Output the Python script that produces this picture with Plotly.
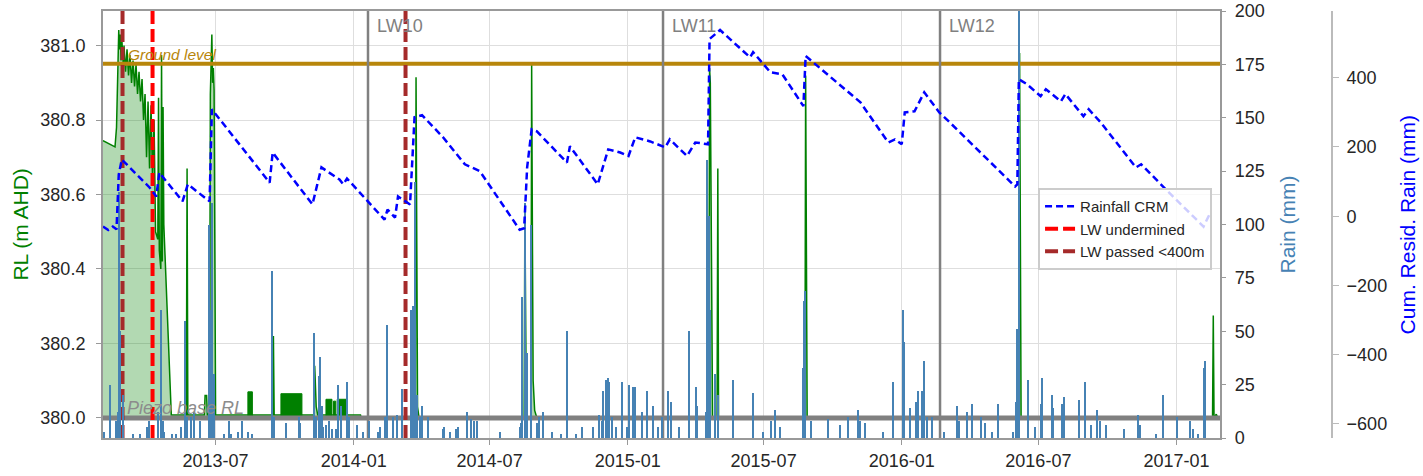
import plotly.graph_objects as go

# ---------------- data ----------------
rl_dates = [
    "2013-02-01", "2013-02-17", "2013-02-19", "2013-02-21", "2013-02-22", "2013-02-23",
    "2013-02-24", "2013-02-25", "2013-02-26", "2013-02-28", "2013-03-01", "2013-03-03",
    "2013-03-05", "2013-03-07", "2013-03-09", "2013-03-11", "2013-03-13", "2013-03-15",
    "2013-03-17", "2013-03-19", "2013-03-21", "2013-03-23", "2013-03-25", "2013-03-27",
    "2013-03-29", "2013-03-31", "2013-04-02", "2013-04-04", "2013-04-06", "2013-04-08",
    "2013-04-10", "2013-04-12", "2013-04-15", "2013-04-16", "2013-04-17", "2013-04-19",
    "2013-04-20", "2013-04-21", "2013-04-22", "2013-04-23", "2013-05-03", "2013-05-23",
    "2013-05-24", "2013-05-25", "2013-06-16", "2013-06-17", "2013-06-19", "2013-06-20",
    "2013-06-23", "2013-06-24", "2013-06-26", "2013-06-27", "2013-06-28", "2013-06-29",
    "2013-06-30", "2013-07-01", "2013-09-15", "2013-09-16", "2013-09-17", "2013-11-09",
    "2013-11-10", "2013-11-12", "2013-11-14", "2014-01-10", "2014-01-11", "2014-03-24",
    "2014-03-25", "2014-03-26", "2014-03-27", "2014-03-29", "2014-08-16", "2014-08-17",
    "2014-08-18", "2014-08-19", "2014-08-25", "2014-08-26", "2014-08-27", "2014-08-28",
    "2014-08-30", "2014-09-02", "2015-04-19", "2015-04-20", "2015-04-21", "2015-04-22",
    "2015-04-23", "2015-04-24", "2015-04-30", "2015-05-01", "2015-05-02", "2015-08-25",
    "2015-08-26", "2015-08-27", "2015-08-28", "2016-06-05", "2016-06-06", "2016-06-07",
    "2016-06-08", "2017-02-18", "2017-02-19", "2017-02-20", "2017-02-23", "2017-02-25",
]
rl_values = [
    380.745, 380.728, 380.78, 381.03, 381.042, 380.99,
    381.03, 380.96, 381.02, 380.95, 381.0, 380.93,
    380.99, 380.92, 380.975, 380.90, 380.96, 380.89,
    380.95, 380.87, 380.93, 380.85, 380.91, 380.80,
    380.87, 380.70, 380.85, 380.67, 380.84, 380.64,
    380.80, 380.50, 380.48, 380.86, 380.45, 380.40,
    380.975, 380.42, 380.835, 380.52, 380.008, 380.008,
    380.67, 380.008, 380.008, 380.06, 380.06, 380.008,
    380.008, 380.87, 381.03, 380.90, 380.94, 380.88,
    380.30, 380.008, 380.008, 380.22, 380.008, 380.008,
    380.14, 380.03, 380.008, 380.008, 380.0, 380.0,
    380.915, 380.40, 380.03, 380.0, 380.0, 380.56,
    380.10, 380.0, 380.0, 380.95, 380.50, 380.10,
    380.02, 380.0, 380.0, 380.94, 380.90, 380.55,
    380.15, 380.0, 380.0, 380.67, 380.0, 380.0,
    380.92, 380.60, 380.0, 380.0, 380.98, 380.50,
    380.0, 380.0, 380.275, 380.0, 380.01, 380.0,
]

# periods of rapid (daily) oscillation of RL, drawn as solid bands
block_start = ["2013-08-13", "2013-09-26", "2013-11-25", "2013-12-05", "2013-12-10"]
block_end = ["2013-08-19", "2013-10-24", "2013-12-03", "2013-12-08", "2013-12-23"]
block_level = [380.07, 380.065, 380.05, 380.045, 380.05]

rain_dates = [
    "2013-02-02", "2013-02-10", "2013-02-18", "2013-02-21", "2013-02-22", "2013-02-23",
    "2013-02-24", "2013-02-28", "2013-03-13", "2013-03-22", "2013-04-01", "2013-04-04",
    "2013-04-15", "2013-04-19", "2013-04-22", "2013-04-24", "2013-05-04", "2013-05-10",
    "2013-05-16", "2013-05-22", "2013-05-24", "2013-05-29", "2013-06-02", "2013-06-10",
    "2013-06-23", "2013-06-25", "2013-06-27", "2013-06-29", "2013-07-12", "2013-07-19",
    "2013-07-22", "2013-07-31", "2013-08-06", "2013-08-13", "2013-08-19", "2013-09-15",
    "2013-09-17", "2013-10-03", "2013-10-20", "2013-10-22", "2013-11-09", "2013-11-12",
    "2013-11-16", "2013-11-18", "2013-11-20", "2013-11-22", "2013-11-26", "2013-11-29",
    "2013-11-30", "2013-12-04", "2013-12-09", "2013-12-12", "2013-12-16", "2013-12-24",
    "2013-12-26", "2014-01-06", "2014-01-14", "2014-01-22", "2014-02-02", "2014-02-05",
    "2014-02-12", "2014-02-15", "2014-02-22", "2014-02-28", "2014-03-06", "2014-03-18",
    "2014-03-21", "2014-03-24", "2014-03-26", "2014-03-30", "2014-04-02", "2014-04-10",
    "2014-04-30", "2014-05-02", "2014-05-09", "2014-05-18", "2014-05-20", "2014-06-01",
    "2014-06-07", "2014-06-11", "2014-06-14", "2014-07-15", "2014-08-11", "2014-08-12",
    "2014-08-14", "2014-08-17", "2014-08-20", "2014-08-25", "2014-08-26", "2014-09-02",
    "2014-09-05", "2014-09-10", "2014-09-23", "2014-10-05", "2014-10-13", "2014-10-24",
    "2014-11-01", "2014-11-16", "2014-11-24", "2014-11-28", "2014-11-29", "2014-12-03",
    "2014-12-06", "2014-12-07", "2014-12-11", "2014-12-17", "2014-12-25", "2015-01-01",
    "2015-01-03", "2015-01-09", "2015-01-11", "2015-01-20", "2015-01-27", "2015-02-04",
    "2015-02-10", "2015-02-16", "2015-02-24", "2015-02-28", "2015-03-10", "2015-03-24",
    "2015-04-02", "2015-04-03", "2015-04-15", "2015-04-17", "2015-04-20", "2015-04-21",
    "2015-04-28", "2015-05-01", "2015-05-21", "2015-06-17", "2015-07-01", "2015-07-11",
    "2015-07-17", "2015-07-23", "2015-08-23", "2015-08-24", "2015-08-25", "2015-09-02",
    "2015-09-25", "2015-10-11", "2015-10-22", "2015-11-04", "2015-11-07", "2015-11-13",
    "2015-12-07", "2015-12-21", "2016-01-03", "2016-01-04", "2016-01-12", "2016-01-20",
    "2016-01-23", "2016-01-28", "2016-01-31", "2016-02-04", "2016-02-11", "2016-02-27",
    "2016-03-15", "2016-03-18", "2016-03-28", "2016-04-04", "2016-04-16", "2016-04-21",
    "2016-05-01", "2016-05-09", "2016-05-28", "2016-06-01", "2016-06-03", "2016-06-05",
    "2016-06-18", "2016-06-27", "2016-07-05", "2016-07-06", "2016-07-20", "2016-07-21",
    "2016-08-02", "2016-08-04", "2016-08-24", "2016-09-02", "2016-09-10", "2016-09-18",
    "2016-09-21", "2016-09-29", "2016-10-23", "2016-11-11", "2016-11-14", "2016-12-05",
    "2016-12-14", "2017-01-02", "2017-01-19", "2017-01-23", "2017-01-30", "2017-02-07",
    "2017-02-08",
]
rain_mm = [
    3, 25, 8, 12, 115, 36,
    50, 20, 2, 2, 5, 8,
    12, 60, 8, 3, 2, 2,
    5, 55, 10, 10, 12, 8,
    100, 60, 110, 30, 2, 8,
    2, 3, 8, 3, 2, 78,
    10, 7, 10, 7, 49, 10,
    29, 38, 15, 5, 6, 5,
    8, 4, 4, 25, 15, 26,
    10, 6, 3, 8, 3, 5,
    10, 53, 10, 11, 23, 60,
    62, 120, 20, 10, 15, 10,
    4, 5, 3, 4, 5, 12,
    9, 8, 8, 3, 5, 7,
    66, 110, 40, 100, 25, 7,
    10, 12, 3, 2, 50, 2,
    5, 5, 11, 8, 22, 27,
    28, 26, 10, 5, 26, 5,
    25, 24, 24, 12, 22, 15,
    5, 10, 22, 17, 5, 50,
    24, 15, 12, 130, 104, 60,
    30, 20, 27, 21, 3, 8,
    13, 5, 33, 64, 69, 8,
    9, 6, 10, 13, 8, 7,
    3, 26, 60, 45, 14, 17,
    22, 22, 36, 10, 10, 3,
    15, 8, 12, 16, 10, 7,
    3, 16, 3, 17, 51, 230,
    27, 5, 16, 28, 20, 14,
    16, 19, 18, 26, 6, 13,
    8, 6, 4, 11, 6, 2,
    20, 10, 8, 4, 2, 33,
    36,
]

cum_dates = [
    "2013-02-01", "2013-02-08", "2013-02-14", "2013-02-19", "2013-02-22", "2013-02-26",
    "2013-04-04", "2013-04-13", "2013-04-17", "2013-05-18", "2013-05-25", "2013-06-23",
    "2013-06-26", "2013-09-11", "2013-09-15", "2013-11-07", "2013-11-19", "2013-12-13",
    "2013-12-18", "2013-12-23", "2014-02-11", "2014-02-15", "2014-02-25", "2014-03-01",
    "2014-03-17", "2014-03-23", "2014-04-02", "2014-04-30", "2014-05-29", "2014-06-18",
    "2014-08-10", "2014-08-16", "2014-08-20", "2014-08-26", "2014-09-02", "2014-10-12",
    "2014-10-16", "2014-11-22", "2014-12-06", "2014-12-22", "2015-01-02", "2015-01-11",
    "2015-01-31", "2015-02-20", "2015-02-26", "2015-03-21", "2015-04-01", "2015-04-18",
    "2015-04-20", "2015-05-04", "2015-06-13", "2015-06-17", "2015-07-10", "2015-07-26",
    "2015-08-23", "2015-08-26", "2015-11-07", "2015-12-14", "2015-12-23", "2016-01-01",
    "2016-01-05", "2016-01-18", "2016-01-31", "2016-02-20", "2016-03-05", "2016-05-31",
    "2016-06-03", "2016-06-05", "2016-06-16", "2016-07-04", "2016-07-11", "2016-07-31",
    "2016-08-06", "2016-08-30", "2016-09-06", "2016-09-22", "2016-11-08", "2016-11-15",
    "2016-12-18", "2017-01-07", "2017-02-06", "2017-02-16",
]
cum_mm = [
    -30, -40, -30, -38, 120, 164,
    83, 57, 126, 43, 92, 43,
    309, 97, 184, 34, 141, 106,
    92, 109, -10, 19, -4, 57,
    34, 286, 292, 228, 150, 130,
    -39, -35, 141, 251, 245, 155,
    202, 92, 193, 184, 174, 228,
    216, 199, 222, 174, 213, 208,
    512, 538, 459, 474, 416, 410,
    318, 463, 329, 213, 222, 208,
    300, 303, 358, 300, 271, 86,
    92, 396, 381, 347, 367, 332,
    353, 289, 309, 271, 141, 150,
    77, 34, -30, 14,
]

lw_names = ["LW10", "LW11", "LW12"]
lw_dates = ["2014-01-20", "2015-02-17", "2016-02-21"]
undermined_dates = ["2013-04-08"]
passed_dates = ["2013-02-27", "2014-03-11"]
ground_level = 380.951
piezo_base = 380.0

x_range = ["2013-02-01", "2017-02-28"]
rl_range = [379.946, 381.093]
rain_range = [0, 200]
cum_range = [-641, 593]
rl_ticks = [380.0, 380.2, 380.4, 380.6, 380.8, 381.0]
rain_ticks = [0, 25, 50, 75, 100, 125, 150, 175, 200]
cum_ticks = [-600, -400, -200, 0, 200, 400]
cum_ticktext = ["\u2212600", "\u2212400", "\u2212200", "0", "200", "400"]

# ---------------- figure ----------------
FONT = "Liberation Sans, Arial, sans-serif"
TICKC = "#262626"
fig = go.Figure()

# baseline for RL fill
fig.add_trace(go.Scatter(x=[rl_dates[0], rl_dates[-1]], y=[piezo_base, piezo_base],
                         mode="lines", line=dict(width=0), showlegend=False, hoverinfo="skip"))
fig.add_trace(go.Scatter(x=rl_dates, y=rl_values, mode="lines",
                         line=dict(color="green", width=1.5),
                         fill="tonexty", fillcolor="rgba(0,128,0,0.3)",
                         showlegend=False, name="RL"))

bx, by = [], []
for s, e, lv in zip(block_start, block_end, block_level):
    bx += [s, s, e, e, None]
    by += [piezo_base, lv, lv, piezo_base, None]
fig.add_trace(go.Scatter(x=bx, y=by, mode="lines", line=dict(color="green", width=1),
                         fill="toself", fillcolor="green", showlegend=False))

fig.add_trace(go.Scatter(x=x_range, y=[ground_level, ground_level], mode="lines",
                         line=dict(color="#b8860b", width=4), showlegend=False))
fig.add_trace(go.Scatter(x=x_range, y=[piezo_base, piezo_base], mode="lines",
                         line=dict(color="#808080", width=5), showlegend=False))

vx, vy = [], []
for d in lw_dates:
    vx += [d, d, None]
    vy += [rl_range[0], rl_range[1], None]
fig.add_trace(go.Scatter(x=vx, y=vy, mode="lines", line=dict(color="#808080", width=2.5),
                         showlegend=False))

ux, uy = [], []
for d in undermined_dates:
    ux += [d, d, None]
    uy += [rl_range[0], rl_range[1], None]
fig.add_trace(go.Scatter(x=ux, y=uy, mode="lines", name="LW undermined", legendrank=2,
                         line=dict(color="red", width=4, dash="13px,5px")))
px_, py_ = [], []
for d in passed_dates:
    px_ += [d, d, None]
    py_ += [rl_range[0], rl_range[1], None]
fig.add_trace(go.Scatter(x=px_, y=py_, mode="lines", name="LW passed <400m", legendrank=3,
                         line=dict(color="#a52a2a", width=4, dash="13px,5px")))

fig.add_trace(go.Bar(x=rain_dates, y=rain_mm, yaxis="y2", width=86400000 * 2.0,
                     marker=dict(color="steelblue", line=dict(width=0)), showlegend=False))

fig.add_trace(go.Scatter(x=cum_dates, y=cum_mm, yaxis="y3", mode="lines", name="Rainfall CRM",
                         legendrank=1, line=dict(color="blue", width=2.5, dash="7px,4px")))

ann = []
for n, d in zip(lw_names, lw_dates):
    ann.append(dict(x=d, xref="x", y=0.9649, yref="paper", text=n, showarrow=False,
                    xanchor="left", yanchor="middle", xshift=7,
                    font=dict(family=FONT, size=18, color="#808080")))
ann.append(dict(x=x_range[0], xref="x", y=ground_level, yref="y", text="<i>Ground level</i>",
                showarrow=False, xanchor="left", yanchor="middle", xshift=23, yshift=9,
                font=dict(family=FONT, size=15.5, color="#b8860b")))
ann.append(dict(x=x_range[0], xref="x", y=piezo_base, yref="y", text="<i>Piezo base RL</i>",
                showarrow=False, xanchor="left", yanchor="middle", xshift=22, yshift=10,
                font=dict(family=FONT, size=18, color="#8c8c8c")))
ann.append(dict(x=-0.0675, xref="paper", y=0.5, yref="paper", text="RL (m AHD)", textangle=-90,
                showarrow=False, xanchor="center", yanchor="middle",
                font=dict(family=FONT, size=21, color="green")))
ann.append(dict(x=0.9634, xref="paper", y=0.5, yref="paper", text="Rain (mm)", textangle=-90,
                showarrow=False, xanchor="center", yanchor="middle",
                font=dict(family=FONT, size=21, color="steelblue")))
ann.append(dict(x=1.0618, xref="paper", y=0.5, yref="paper", text="Cum. Resid. Rain (mm)",
                textangle=-90, showarrow=False, xanchor="center", yanchor="middle",
                font=dict(family=FONT, size=21, color="blue")))

GRID = "#dedede"
SPINE = "#999999"
fig.update_layout(
    template="none",
    width=1423, height=476,
    margin=dict(l=103, r=91, t=11, b=38, pad=0, autoexpand=False),
    paper_bgcolor="white", plot_bgcolor="white",
    font=dict(family=FONT, color=TICKC),
    bargap=0,
    annotations=ann,
    xaxis=dict(domain=[0, 0.9089], type="date", range=x_range, tickformat="%Y-%m",
               dtick="M6", tick0="2013-07-01", showgrid=True, gridcolor=GRID, gridwidth=1,
               ticks="outside", ticklen=5, tickcolor=SPINE, tickfont=dict(size=18, color=TICKC),
               showline=True, linecolor=SPINE, linewidth=2, mirror=True, zeroline=False,
               ticklabelstandoff=0, automargin=False),
    yaxis=dict(range=rl_range, tickvals=rl_ticks, tickformat=".1f", showgrid=True,
               gridcolor=GRID, gridwidth=1, ticks="outside", ticklen=5, tickcolor=SPINE,
               tickfont=dict(size=18, color=TICKC), showline=True, linecolor=SPINE,
               linewidth=2, mirror=True, zeroline=False, ticklabelstandoff=7,
               automargin=False),
    yaxis2=dict(overlaying="y", side="right", anchor="x", range=rain_range,
                tickvals=rain_ticks, showgrid=False, zeroline=False, ticks="outside",
                ticklen=5, tickcolor=SPINE, tickfont=dict(size=18, color=TICKC),
                showline=False, ticklabelstandoff=5, automargin=False),
    yaxis3=dict(overlaying="y", side="right", anchor="free", position=1.0, range=cum_range,
                tickvals=cum_ticks, ticktext=cum_ticktext, showgrid=False, zeroline=False,
                ticks="outside", ticklen=6, tickcolor="#bbbbbb",
                tickfont=dict(size=18, color=TICKC), showline=True, linecolor="#bbbbbb",
                linewidth=2, ticklabelstandoff=4, automargin=False),
    legend=dict(x=0.9024, xanchor="right", y=0.5855, yanchor="top", traceorder="normal",
                bgcolor="rgba(255,255,255,0.8)", bordercolor="#cccccc", borderwidth=2,
                font=dict(family=FONT, size=15, color=TICKC), tracegroupgap=0),
    showlegend=True,
)

fig.write_html("out.html", config={"displayModeBar": False},
               post_script="document.body.style.margin='0';document.body.style.overflow='hidden';")
